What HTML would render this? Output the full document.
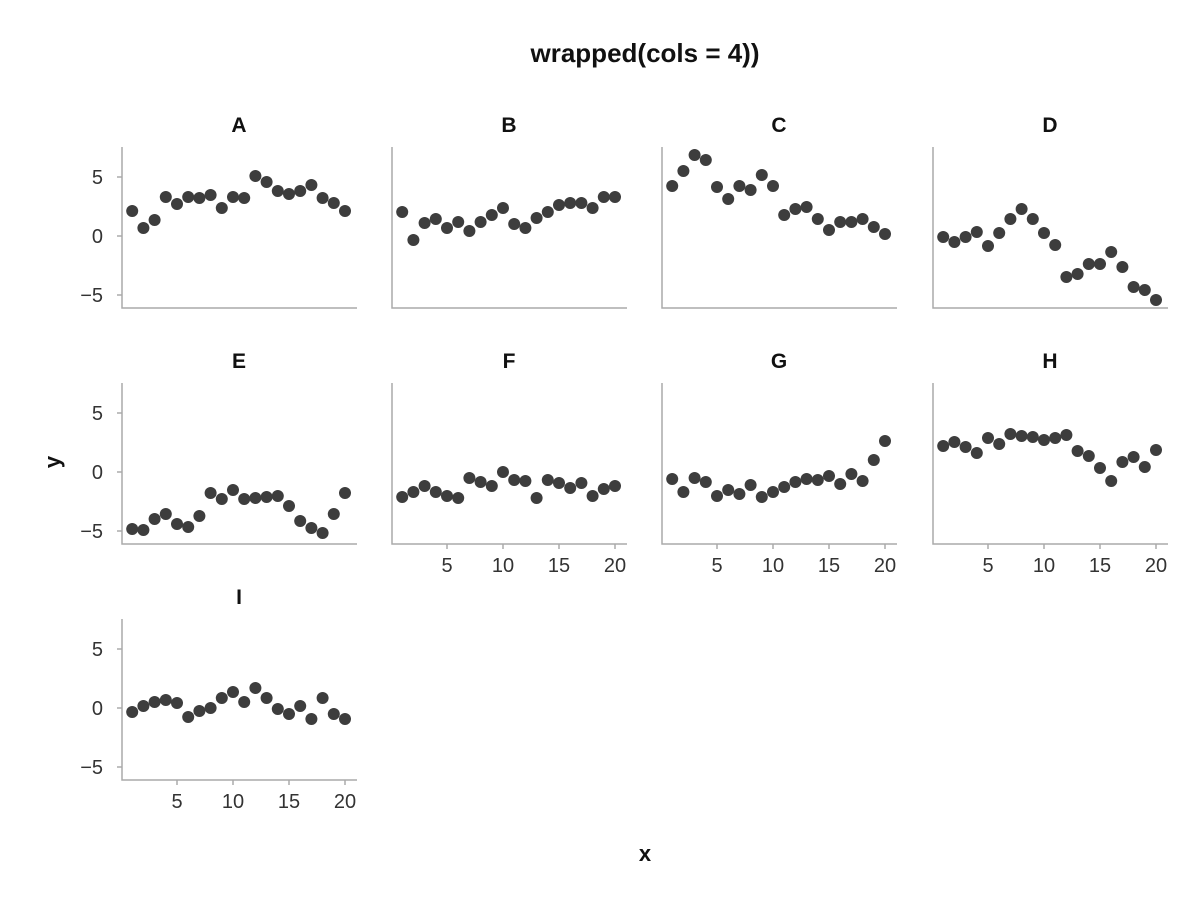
<!DOCTYPE html>
<html><head><meta charset="utf-8"><style>body{margin:0;background:#fff}svg{display:block}text{font-family:"Liberation Sans",sans-serif}</style></head>
<body>
<svg id="s" width="1200" height="900" xmlns="http://www.w3.org/2000/svg">
<text x="645" y="62" font-size="26" font-weight="bold" text-anchor="middle" fill="#111">wrapped(cols = 4))</text>
<text x="645" y="861" font-size="22" font-weight="bold" text-anchor="middle" fill="#111">x</text>
<text transform="translate(60,462) rotate(-90)" font-size="22" font-weight="bold" text-anchor="middle" fill="#111">y</text>
<g id="g"></g>
</svg>
<script>
const P=[
["A",0,0,[211,228,220,197,204,197,198,195,208,197,198,176,182,191,194,191,185,198,203,211]],
["B",1,0,[212,240,223,219,228,222,231,222,215,208,224,228,218,212,205,203,203,208,197,197]],
["C",2,0,[186,171,155,160,187,199,186,190,175,186,215,209,207,219,230,222,222,219,227,234]],
["D",3,0,[237,242,237,232,246,233,219,209,219,233,245,277,274,264,264,252,267,287,290,300]],
["E",0,1,[529,530,519,514,524,527,516,493,499,490,499,498,497,496,506,521,528,533,514,493]],
["F",1,1,[497,492,486,492,496,498,478,482,486,472,480,481,498,480,483,488,483,496,489,486]],
["G",2,1,[479,492,478,482,496,490,494,485,497,492,487,482,479,480,476,484,474,481,460,441]],
["H",3,1,[446,442,447,453,438,444,434,436,437,440,438,435,451,456,468,481,462,457,467,450]],
["I",0,2,[712,706,702,700,703,717,711,708,698,692,702,688,698,709,714,706,719,698,714,719]]];
const XO=[0,270,540,811],YO=[0,236,472];let h="";
for(const [n,c,r,d] of P){const ox=XO[c],oy=YO[r],L=122+ox,B=308+oy;
h+=`<text x="${L+117}" y="${132+oy}" font-size="21" font-weight="bold" text-anchor="middle" fill="#111">${n}</text>`;
h+=`<path d="M${L} ${147+oy}V${B}H${L+235}" stroke="#aaa" stroke-width="1.5" fill="none"/>`;
if(c==0){[[177,"5"],[236,"0"],[295,"−5"]].forEach(([y,t])=>{h+=`<path d="M${L-5} ${y+oy}H${L}" stroke="#aaa" stroke-width="1.5"/><text x="${L-19}" y="${y+oy+7}" font-size="20" text-anchor="end" fill="#333">${t}</text>`;});}
if((r==1&&c>0)||r==2){[5,10,15,20].forEach(v=>{const x=132.2+11.2*(v-1)+ox;h+=`<path d="M${x} ${B}V${B+5}" stroke="#aaa" stroke-width="1.5"/><text x="${x}" y="${B+28}" font-size="20" text-anchor="middle" fill="#333">${v}</text>`;});}
d.forEach((y,i)=>{h+=`<circle cx="${132.2+11.2*i+ox}" cy="${y}" r="6" fill="#3d3d3d"/>`;});}
document.getElementById("g").innerHTML=h;
</script>
</body></html>
